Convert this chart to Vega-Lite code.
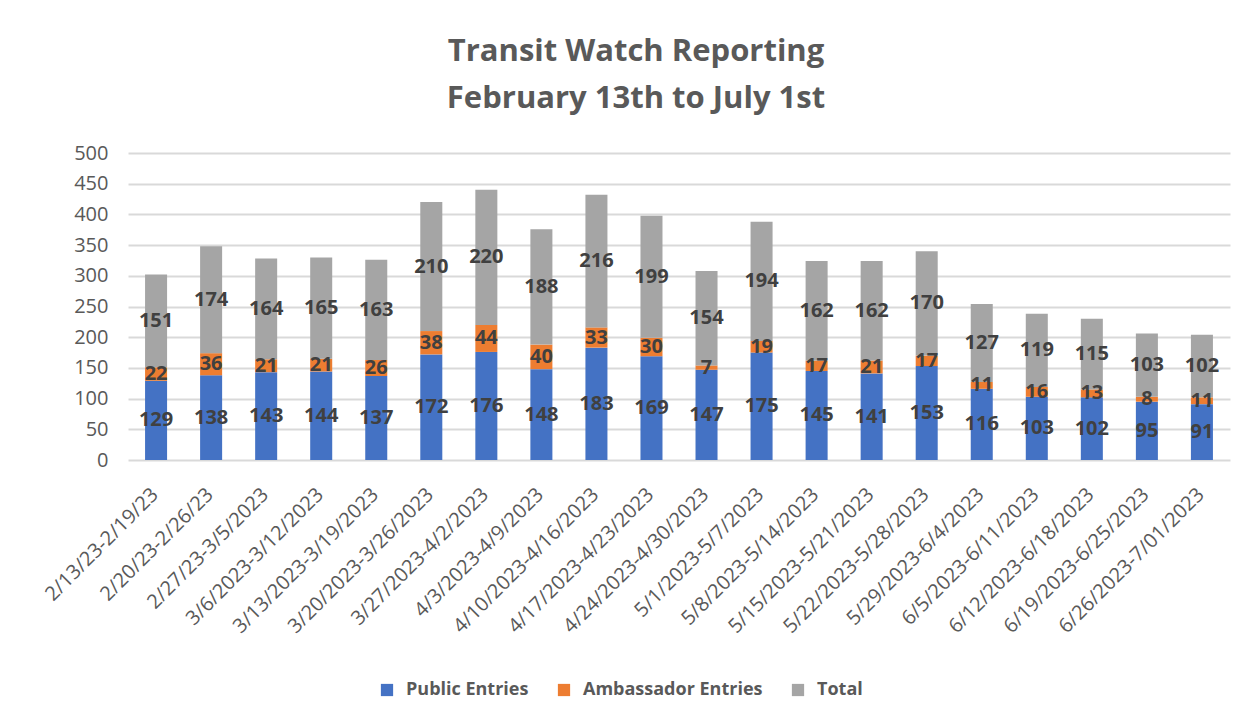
{
  "$schema": "https://vega.github.io/schema/vega-lite/v6.json",
  "width": 1102,
  "height": 307,
  "autosize": {"type": "none"},
  "padding": {"left": 128, "top": 153, "right": 15, "bottom": 267},
  "background": "white",
  "title": {
    "text": ["Transit Watch Reporting", "February 13th to July 1st"],
    "font": "Open Sans",
    "fontSize": 31,
    "fontWeight": "bold",
    "color": "#595959",
    "lineHeight": 47,
    "anchor": "middle",
    "frame": "group",
    "dx": -43,
    "offset": 28
  },
  "data": {
    "values": [
      {"week": "2/13/23-2/19/23", "series": "Public Entries", "value": 129, "k": 1},
      {"week": "2/13/23-2/19/23", "series": "Ambassador Entries", "value": 22, "k": 2},
      {"week": "2/13/23-2/19/23", "series": "Total", "value": 151, "k": 3},
      {"week": "2/20/23-2/26/23", "series": "Public Entries", "value": 138, "k": 1},
      {"week": "2/20/23-2/26/23", "series": "Ambassador Entries", "value": 36, "k": 2},
      {"week": "2/20/23-2/26/23", "series": "Total", "value": 174, "k": 3},
      {"week": "2/27/23-3/5/2023", "series": "Public Entries", "value": 143, "k": 1},
      {"week": "2/27/23-3/5/2023", "series": "Ambassador Entries", "value": 21, "k": 2},
      {"week": "2/27/23-3/5/2023", "series": "Total", "value": 164, "k": 3},
      {"week": "3/6/2023-3/12/2023", "series": "Public Entries", "value": 144, "k": 1},
      {"week": "3/6/2023-3/12/2023", "series": "Ambassador Entries", "value": 21, "k": 2},
      {"week": "3/6/2023-3/12/2023", "series": "Total", "value": 165, "k": 3},
      {"week": "3/13/2023-3/19/2023", "series": "Public Entries", "value": 137, "k": 1},
      {"week": "3/13/2023-3/19/2023", "series": "Ambassador Entries", "value": 26, "k": 2},
      {"week": "3/13/2023-3/19/2023", "series": "Total", "value": 163, "k": 3},
      {"week": "3/20/2023-3/26/2023", "series": "Public Entries", "value": 172, "k": 1},
      {"week": "3/20/2023-3/26/2023", "series": "Ambassador Entries", "value": 38, "k": 2},
      {"week": "3/20/2023-3/26/2023", "series": "Total", "value": 210, "k": 3},
      {"week": "3/27/2023-4/2/2023", "series": "Public Entries", "value": 176, "k": 1},
      {"week": "3/27/2023-4/2/2023", "series": "Ambassador Entries", "value": 44, "k": 2},
      {"week": "3/27/2023-4/2/2023", "series": "Total", "value": 220, "k": 3},
      {"week": "4/3/2023-4/9/2023", "series": "Public Entries", "value": 148, "k": 1},
      {"week": "4/3/2023-4/9/2023", "series": "Ambassador Entries", "value": 40, "k": 2},
      {"week": "4/3/2023-4/9/2023", "series": "Total", "value": 188, "k": 3},
      {"week": "4/10/2023-4/16/2023", "series": "Public Entries", "value": 183, "k": 1},
      {"week": "4/10/2023-4/16/2023", "series": "Ambassador Entries", "value": 33, "k": 2},
      {"week": "4/10/2023-4/16/2023", "series": "Total", "value": 216, "k": 3},
      {"week": "4/17/2023-4/23/2023", "series": "Public Entries", "value": 169, "k": 1},
      {"week": "4/17/2023-4/23/2023", "series": "Ambassador Entries", "value": 30, "k": 2},
      {"week": "4/17/2023-4/23/2023", "series": "Total", "value": 199, "k": 3},
      {"week": "4/24/2023-4/30/2023", "series": "Public Entries", "value": 147, "k": 1},
      {"week": "4/24/2023-4/30/2023", "series": "Ambassador Entries", "value": 7, "k": 2},
      {"week": "4/24/2023-4/30/2023", "series": "Total", "value": 154, "k": 3},
      {"week": "5/1/2023-5/7/2023", "series": "Public Entries", "value": 175, "k": 1},
      {"week": "5/1/2023-5/7/2023", "series": "Ambassador Entries", "value": 19, "k": 2},
      {"week": "5/1/2023-5/7/2023", "series": "Total", "value": 194, "k": 3},
      {"week": "5/8/2023-5/14/2023", "series": "Public Entries", "value": 145, "k": 1},
      {"week": "5/8/2023-5/14/2023", "series": "Ambassador Entries", "value": 17, "k": 2},
      {"week": "5/8/2023-5/14/2023", "series": "Total", "value": 162, "k": 3},
      {"week": "5/15/2023-5/21/2023", "series": "Public Entries", "value": 141, "k": 1},
      {"week": "5/15/2023-5/21/2023", "series": "Ambassador Entries", "value": 21, "k": 2},
      {"week": "5/15/2023-5/21/2023", "series": "Total", "value": 162, "k": 3},
      {"week": "5/22/2023-5/28/2023", "series": "Public Entries", "value": 153, "k": 1},
      {"week": "5/22/2023-5/28/2023", "series": "Ambassador Entries", "value": 17, "k": 2},
      {"week": "5/22/2023-5/28/2023", "series": "Total", "value": 170, "k": 3},
      {"week": "5/29/2023-6/4/2023", "series": "Public Entries", "value": 116, "k": 1},
      {"week": "5/29/2023-6/4/2023", "series": "Ambassador Entries", "value": 11, "k": 2},
      {"week": "5/29/2023-6/4/2023", "series": "Total", "value": 127, "k": 3},
      {"week": "6/5/2023-6/11/2023", "series": "Public Entries", "value": 103, "k": 1},
      {"week": "6/5/2023-6/11/2023", "series": "Ambassador Entries", "value": 16, "k": 2},
      {"week": "6/5/2023-6/11/2023", "series": "Total", "value": 119, "k": 3},
      {"week": "6/12/2023-6/18/2023", "series": "Public Entries", "value": 102, "k": 1},
      {"week": "6/12/2023-6/18/2023", "series": "Ambassador Entries", "value": 13, "k": 2},
      {"week": "6/12/2023-6/18/2023", "series": "Total", "value": 115, "k": 3},
      {"week": "6/19/2023-6/25/2023", "series": "Public Entries", "value": 95, "k": 1},
      {"week": "6/19/2023-6/25/2023", "series": "Ambassador Entries", "value": 8, "k": 2},
      {"week": "6/19/2023-6/25/2023", "series": "Total", "value": 103, "k": 3},
      {"week": "6/26/2023-7/01/2023", "series": "Public Entries", "value": 91, "k": 1},
      {"week": "6/26/2023-7/01/2023", "series": "Ambassador Entries", "value": 11, "k": 2},
      {"week": "6/26/2023-7/01/2023", "series": "Total", "value": 102, "k": 3}
    ]
  },
  "transform": [
    {"stack": "value", "groupby": ["week"], "sort": [{"field": "k", "order": "ascending"}], "as": ["v0", "v1"]},
    {"calculate": "(datum.v0 + datum.v1) / 2", "as": "mid"}
  ],
  "encoding": {
    "x": {
      "field": "week",
      "type": "nominal",
      "sort": null,
      "title": null,
      "scale": {"paddingInner": 0.6, "paddingOuter": 0.31},
      "axis": {
        "labelAngle": -45,
        "labelFont": "Open Sans",
        "labelFontSize": 20,
        "labelColor": "#595959",
        "labelPadding": 24,
        "labelOffset": -8,
        "ticks": false,
        "domain": false,
        "grid": false,
        "labelOverlap": false,
        "labelLimit": 400
      }
    }
  },
  "layer": [
    {
      "mark": {"type": "bar"},
      "encoding": {
        "y": {
          "field": "v1",
          "type": "quantitative",
          "title": null,
          "scale": {"domain": [0, 500], "nice": false},
          "axis": {
            "values": [0, 50, 100, 150, 200, 250, 300, 350, 400, 450, 500],
            "labelFont": "Open Sans",
            "labelFontSize": 20,
            "labelColor": "#595959",
            "labelPadding": 20,
            "labelOverlap": false,
            "ticks": false,
            "domain": false,
            "gridColor": "#d9d9d9",
            "gridWidth": 2
          }
        },
        "y2": {"field": "v0"},
        "color": {
          "field": "series",
          "type": "nominal",
          "scale": {
            "domain": ["Public Entries", "Ambassador Entries", "Total"],
            "range": ["#4472C4", "#ED7D31", "#A5A5A5"]
          },
          "legend": {
            "title": null,
            "orient": "none",
            "legendX": 250,
            "legendY": 528,
            "direction": "horizontal",
            "symbolType": "square",
            "symbolSize": 150,
            "symbolStrokeWidth": 0,
            "labelFont": "Open Sans",
            "labelFontSize": 18,
            "labelFontWeight": "bold",
            "labelColor": "#595959",
            "labelOffset": 10,
            "labelLimit": 400,
            "columnPadding": 26
          }
        }
      }
    },
    {
      "mark": {"type": "text", "font": "Open Sans", "fontSize": 20, "fontWeight": "bold", "color": "#404040"},
      "encoding": {
        "y": {
          "field": "mid",
          "type": "quantitative",
          "title": null,
          "scale": {"domain": [0, 500], "nice": false},
          "axis": {
            "values": [0, 50, 100, 150, 200, 250, 300, 350, 400, 450, 500],
            "labelFont": "Open Sans",
            "labelFontSize": 20,
            "labelColor": "#595959",
            "labelPadding": 20,
            "labelOverlap": false,
            "ticks": false,
            "domain": false,
            "gridColor": "#d9d9d9",
            "gridWidth": 2
          }
        },
        "text": {"field": "value", "type": "quantitative"}
      }
    }
  ],
  "config": {"view": {"stroke": null}}
}
